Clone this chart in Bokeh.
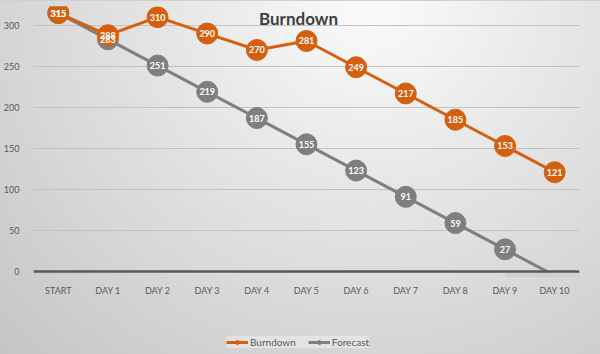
from bokeh.plotting import figure
from bokeh.models import ColumnDataSource, Legend, LegendItem, Label, FixedTicker, Range1d, BoxAnnotation
from bokeh.embed import file_html
from bokeh.resources import INLINE
from bokeh.core.properties import value

categories = ["START", "DAY 1", "DAY 2", "DAY 3", "DAY 4", "DAY 5", "DAY 6", "DAY 7", "DAY 8", "DAY 9", "DAY 10"]
burndown = [315, 288, 310, 290, 270, 281, 249, 217, 185, 153, 121]
forecast = [315, 283, 251, 219, 187, 155, 123, 91, 59, 27, -5]
y_ticks = [0, 50, 100, 150, 200, 250, 300]

ORANGE = "#D4600F"
GRAY = "#7F7F7F"
FONT = "Lato"

p = figure(width=600, height=354, x_range=categories, y_range=Range1d(-102.4, 323),
           output_backend="svg", toolbar_location=None,
           min_border_left=29, min_border_right=21, min_border_top=5, min_border_bottom=0)
p.background_fill_alpha = 0
p.border_fill_alpha = 0
p.outline_line_color = None
p.styles = {"background": "radial-gradient(ellipse farthest-corner at 62% 0%, #fbfbfb 0%, #e4e4e4 42%, #c5c5c5 100%)",
            "border-top": "1px solid #d0d0d0", "box-sizing": "border-box"}

src_b = ColumnDataSource(dict(x=categories, y=burndown, t=[str(v) for v in burndown]))
fc_vis = [(c, v) for c, v in zip(categories, forecast) if v >= 0]
src_f_line = ColumnDataSource(dict(x=categories, y=forecast))
src_f = ColumnDataSource(dict(x=[c for c, v in fc_vis], y=[v for c, v in fc_vis], t=[str(v) for c, v in fc_vis]))

fl = p.line("x", "y", source=src_f_line, line_color=GRAY, line_width=3)
fs = p.scatter("x", "y", source=src_f, size=21, fill_color=GRAY, line_color=GRAY)
bl = p.line("x", "y", source=src_b, line_color=ORANGE, line_width=3)
bs = p.scatter("x", "y", source=src_b, size=21, fill_color=ORANGE, line_color=ORANGE)

for s in (src_f, src_b):
    p.text("x", "y", text="t", source=s, text_color="white", text_font=value(FONT),
           text_font_style="bold", text_font_size="9px", text_align="center", text_baseline="middle")

# hide the part of the forecast line that falls below the value-axis minimum
mask = BoxAnnotation(top=0, bottom=-7, left=9.5, fill_color="#d1d1d1", fill_alpha=1.0,
                     line_color=None, level="glyph")
p.add_layout(mask)

p.add_layout(Label(x=5.5, y=308, x_units="data", y_units="data", text="Burndown",
                   text_font=FONT, text_font_style="bold", text_font_size="17px",
                   text_color="#404040", text_align="center", text_baseline="middle", x_offset=-8))

p.yaxis.ticker = FixedTicker(ticks=y_ticks)
p.yaxis.axis_line_color = None
p.yaxis.major_tick_line_color = None
p.yaxis.minor_tick_line_color = None
p.yaxis.major_label_text_font = FONT
p.yaxis.major_label_text_font_size = "9px"
p.yaxis.major_label_text_color = "#595959"
p.yaxis.major_label_standoff = 8

p.xaxis.fixed_location = 0
p.xaxis.axis_line_color = "#595959"
p.xaxis.axis_line_width = 2.5
p.xaxis.major_tick_line_color = None
p.xaxis.minor_tick_line_color = None
p.xaxis.major_label_text_font = FONT
p.xaxis.major_label_text_font_size = "9px"
p.xaxis.major_label_text_color = "#595959"
p.xaxis.major_label_standoff = 8

p.xgrid.grid_line_color = None
p.ygrid.grid_line_color = "#c2c2c2"
p.ygrid.grid_line_width = 1

legend = Legend(items=[LegendItem(label="Burndown", renderers=[bl, bs]),
                       LegendItem(label="Forecast", renderers=[fl, fs])],
                orientation="horizontal", location=(193, 7),
                label_text_font=FONT, label_text_font_size="10px", label_text_color="#595959",
                glyph_width=22, glyph_height=10, spacing=12, padding=5, margin=0,
                label_standoff=2,
                background_fill_color="#ececec", background_fill_alpha=0.6,
                border_line_color=None)
p.add_layout(legend, "center")

open("out.html", "w").write(file_html(p, INLINE))
